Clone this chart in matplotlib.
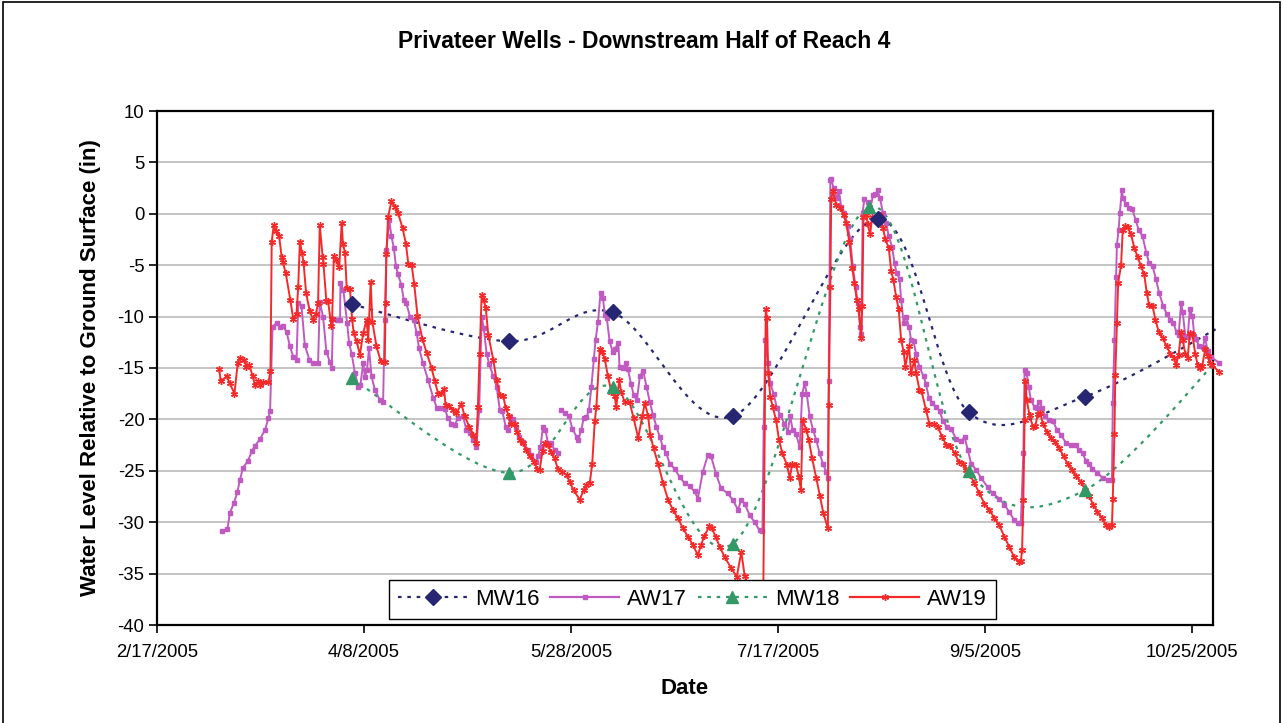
import numpy as np
import pandas as pd
import matplotlib
matplotlib.use("Agg")
import matplotlib.pyplot as plt
import matplotlib.dates as mdates
from matplotlib.lines import Line2D
from matplotlib.patches import Rectangle
from matplotlib.ticker import FixedLocator, FuncFormatter, MultipleLocator

plt.rcParams['font.family'] = ['Liberation Sans', 'DejaVu Sans']
plt.rcParams['axes.unicode_minus'] = False

title = "Privateer Wells - Downstream Half of Reach 4"
start = "2005-02-17"
tick_dates = ["2005-02-17", "2005-04-08", "2005-05-28", "2005-07-17", "2005-09-05", "2005-10-25"]

# monitoring wells (manual readings), last point lies past the axis end
mw16_dates = ["2005-04-05", "2005-05-13", "2005-06-07", "2005-07-06", "2005-08-10", "2005-09-01", "2005-09-29", "2005-11-06"]
mw16_vals = [-8.8, -12.4, -9.6, -19.7, -0.5, -19.3, -17.8, -9.8]
mw18_dates = ["2005-04-05", "2005-05-13", "2005-06-07", "2005-07-06", "2005-08-08", "2005-09-01", "2005-09-29", "2005-11-06"]
mw18_vals = [-16.0, -25.2, -16.8, -32.1, 0.7, -25.0, -26.9, -11.5]

# logger wells, days after 2/17/2005
aw17_days = [15.6, 17.0, 17.6, 18.6, 19.4, 20.0, 20.8, 22.0, 22.9, 23.6, 24.9, 26.1, 26.9, 27.3,
             27.9, 28.9, 29.8, 30.4, 31.3, 32.1, 32.9, 33.7, 34.1, 34.9, 35.7, 36.8, 37.7, 38.9,
             39.3, 40.1, 40.9, 41.7, 42.2, 42.5, 43.4, 44.2, 44.3, 45.0, 45.9, 46.4, 47.0, 47.8,
             48.6, 49.1, 49.8, 50.2, 50.7, 51.2, 51.8, 52.6, 53.8, 54.6, 55.0, 55.4, 56.1, 56.6,
             57.2, 57.7, 58.2, 59.0, 59.6, 60.2, 61.1, 62.0, 62.7, 63.3, 64.2, 65.5, 66.7, 67.6,
             68.6, 69.5, 70.3, 71.1, 71.9, 72.7, 73.9, 74.7, 75.5, 76.4, 77.1, 77.8, 78.4, 78.9,
             79.6, 80.2, 81.2, 82.0, 82.8, 83.4, 84.2, 84.8, 85.3, 86.0, 86.6, 87.4, 88.4, 89.6,
             90.4, 91.5, 92.0, 92.6, 93.2, 93.8, 94.4, 95.2, 96.0, 96.8, 97.2,
             97.6, 98.5, 99.5, 100.3, 101.3, 101.7, 102.5, 103.0, 103.7, 104.3, 104.9, 105.5,
             105.9, 106.5, 107.1, 107.7, 108.1, 108.6, 109.3, 110.0, 110.5, 111.4, 111.7, 112.5,
             113.2, 113.7, 114.5, 115.1, 115.9, 116.6, 117.4, 118.2, 119.0, 119.8, 120.6, 121.4,
             122.2, 123.0, 123.8, 125.0, 126.2, 127.4, 128.6, 129.8, 130.6, 131.8, 133.0, 133.8,
             135.0, 136.2, 137.8, 139.0, 140.3, 141.1, 141.9, 143.1, 144.3, 145.5, 146.2, 146.5,
             146.9, 147.5, 148.1, 148.9, 149.7, 150.5, 151.5, 152.3, 152.9, 153.5, 154.3, 155.2,
             155.8, 156.4, 156.9, 157.6, 158.4, 159.2, 160.0, 160.8, 161.6, 162.0, 162.2, 162.6,
             162.8, 163.4, 164.2, 164.7, 165.2, 166.0, 166.8, 167.4, 168.0, 168.7, 169.2, 169.8,
             170.1, 170.4, 170.8, 171.6, 172.2, 172.9, 173.5, 174.0, 174.6, 175.3, 176.1, 176.7,
             177.5, 178.1, 178.6, 179.3, 179.7, 180.3, 180.9, 181.6, 182.1, 182.7, 183.3, 184.1,
             185.1, 185.7, 186.4, 187.2, 188.2, 189.0, 189.8, 190.7, 191.7, 193.0, 194.2, 195.0,
             195.8, 196.6, 197.8, 199.0, 200.6, 201.8, 203.4, 204.6, 205.8, 207.0, 207.8, 208.6,
             209.2, 209.5, 210.0, 210.5, 211.0, 211.9, 212.5, 213.1, 213.7, 214.5, 215.5, 216.4,
             217.3, 218.3, 219.5, 220.7, 221.8, 222.7, 223.5, 224.3, 225.1, 225.9, 227.1, 228.4,
             229.6, 230.6, 230.8, 231.2, 231.6, 231.8, 232.2, 232.5, 233.0, 233.3, 233.9, 234.7,
             235.5, 236.3, 237.1, 238.0, 238.9, 239.6, 240.4, 241.2, 242.0, 243.0, 243.8, 244.7,
             245.4, 246.2, 246.7, 247.3, 247.7, 248.3, 248.9, 249.4, 250.0, 250.5, 250.9, 251.7,
             252.5, 253.1, 253.7, 254.4, 256.5]
aw17_vals = [-30.9, -30.7, -29.1, -28.1, -27.1, -25.9, -24.7, -24.0, -23.1, -22.6, -21.9, -21.0, -19.9, -19.2,
             -11.0, -10.6, -11.0, -10.9, -11.5, -12.9, -13.9, -14.2, -8.7, -9.0, -12.8, -14.2, -14.5, -14.5,
             -8.6, -10.0, -13.4, -14.4, -15.0, -10.2, -10.3, -10.3, -6.7, -7.4, -10.6, -12.6, -13.6, -15.5,
             -16.8, -16.7, -14.5, -15.9, -15.2, -13.1, -15.8, -17.1, -18.1, -18.3, -10.3, -3.5, -0.6, -2.2,
             -3.3, -5.1, -5.9, -6.9, -8.4, -8.7, -10.0, -10.3, -11.6, -13.1, -14.5, -16.2, -17.9, -18.9,
             -18.9, -19.0, -19.9, -20.4, -20.5, -19.9, -19.7, -21.0, -21.3, -22.0, -22.7, -19.1, -10.0, -11.1,
             -13.6, -14.6, -15.8, -16.8, -19.1, -19.2, -20.7, -21.0, -19.9, -20.0, -20.7, -21.7, -22.2, -23.0,
             -23.5, -24.1, -23.6, -22.7, -20.7, -21.0, -22.3, -22.3, -23.0, -23.3, np.nan,
             -19.1, -19.4, -19.7, -20.9, -21.7, -22.0, -21.0, -19.9, -19.8, -19.1, -16.8, -14.1,
             -12.3, -10.5, -7.7, -8.2, -9.8, -10.1, -12.4, -13.4, -13.2, -12.6, -14.9, -15.0,
             -14.5, -15.1, -16.6, -17.6, -18.1, -15.8, -15.3, -16.8, -18.3, -19.6, -20.7, -21.7,
             -22.7, -23.3, -24.3, -24.8, -25.6, -26.2, -26.5, -27.0, -27.7, -25.1, -23.5, -23.6,
             -25.3, -26.7, -27.2, -27.8, -28.8, -27.8, -28.2, -29.3, -30.0, -30.8, -30.9, -20.7,
             -12.3, -14.5, -16.5, -17.5, -18.9, -19.6, -20.4, -21.2, -19.7, -21.0, -21.4, -22.7,
             -17.5, -16.5, -17.5, -19.7, -21.0, -22.0, -23.3, -24.3, -25.1, -25.7, -16.3, 3.3,
             3.4, 2.5, 1.5, 2.2, 0.7, 0.1, -1.2, -2.5, -5.1, -7.1, -8.7, -11.0,
             -11.7, 0.1, 1.4, 1.1, 0.4, 1.8, 1.9, 2.3, 1.5, 0.1, -0.9, -2.2,
             -3.2, -4.8, -5.8, -6.3, -8.4, -10.6, -10.0, -11.0, -12.3, -12.4, -13.6, -14.9,
             -15.8, -16.6, -17.9, -18.4, -18.8, -19.2, -20.2, -20.7, -20.9, -21.9, -22.1, -21.7,
             -23.0, -24.3, -24.9, -25.7, -26.6, -27.2, -27.7, -28.3, -29.0, -29.8, -30.1, -30.1,
             -23.3, -15.2, -15.5, -16.8, -18.1, -18.8, -18.9, -18.3, -18.9, -19.7, -20.1, -20.2,
             -21.0, -21.5, -22.3, -22.5, -22.5, -23.0, -23.3, -24.0, -24.3, -24.8, -25.2, -25.7,
             -25.9, -25.9, -18.4, -12.3, -6.1, -3.0, -1.6, 0.1, 2.3, 1.5, 1.0, 0.6,
             0.5, -0.6, -1.6, -2.2, -3.8, -4.8, -5.1, -6.3, -7.7, -9.0, -9.7, -10.3,
             -10.6, -11.5, -11.8, -8.7, -9.6, -11.9, -12.0, -9.3, -9.9, -11.9, -12.2, -12.9,
             -13.0, -12.1, -13.3, -13.9, -14.5]

aw19_days = [15.0, 15.4, 16.8, 17.6, 18.7, 19.5, 20.0, 21.0, 21.6, 22.3, 23.1, 23.7, 24.4, 24.8,
             25.7, 26.9, 27.4, 27.7, 28.2, 28.7, 29.5, 30.1, 30.4, 31.1, 32.2, 32.9, 33.7, 34.1,
             34.5, 35.0, 35.4, 36.0, 36.9, 37.7, 38.4, 38.9, 39.3, 40.0, 40.2, 40.9, 41.3, 42.1,
             42.3, 42.7, 43.2, 44.0, 44.6, 44.9, 45.4, 45.8, 46.6, 47.1, 47.5, 48.2, 49.0, 49.8,
             50.6, 51.0, 51.6, 52.0, 53.0, 54.0, 55.0, 55.2, 55.4, 55.8, 56.6, 57.4, 58.2, 59.3,
             60.1, 60.7, 61.5, 62.1, 62.9, 64.1, 65.1, 66.3, 67.1, 67.9, 68.7, 69.3, 69.7, 70.5,
             71.5, 72.3, 73.5, 74.3, 75.4, 76.4, 77.1, 77.5, 77.9, 78.4, 78.9, 79.4, 80.0, 81.2,
             82.0, 82.8, 83.6, 84.2, 85.0, 85.6, 86.4, 87.0, 87.6, 88.4, 89.2, 90.0, 91.0, 91.8,
             92.4, 93.1, 93.6, 94.4, 95.2, 96.0, 96.8, 97.9, 98.9, 99.7, 100.6, 102.1, 103.0, 103.7,
             104.5, 105.1, 105.7, 106.1, 106.9, 107.5, 108.1, 108.9, 109.7, 110.5, 110.9, 111.6, 112.1, 112.9,
             114.1, 115.1, 116.2, 117.2, 117.8, 118.6, 119.1, 119.9, 121.0, 122.2, 123.4, 124.6, 125.8, 127.0,
             128.2, 129.4, 130.6, 131.4, 132.2, 133.4, 134.0, 134.9, 135.9, 137.1, 138.7, 140.0, 141.1, 141.9,
             143.5, 145.5, 146.4, 147.0, 147.3, 147.6, 148.1, 148.7, 149.5, 150.2, 151.0, 152.1, 152.8, 153.4,
             154.3, 155.0, 155.5, 155.9, 156.8, 157.4, 158.2, 159.2, 160.1, 160.9, 162.0, 162.2, 162.6, 162.8,
             163.2, 164.0, 165.0, 165.8, 166.4, 167.2, 167.9, 168.4, 169.0, 169.5, 170.0, 170.3, 170.6, 171.3,
             171.6, 172.2, 172.7, 173.5, 174.5, 175.3, 175.9, 176.7, 177.3, 177.8, 178.5, 179.1, 179.7, 180.3,
             180.7, 181.6, 182.1, 182.9, 183.3, 184.1, 184.6, 185.7, 186.5, 187.7, 188.5, 189.6, 190.6, 191.6,
             192.6, 193.6, 194.6, 195.4, 196.3, 197.4, 198.6, 199.8, 201.0, 202.2, 203.4, 204.6, 205.8, 207.0,
             208.1, 208.6, 208.9, 209.2, 209.5, 209.7, 210.0, 210.7, 211.5, 212.1, 212.7, 213.3, 213.9, 214.9,
             215.9, 216.9, 217.9, 218.9, 219.9, 221.0, 221.9, 223.1, 224.2, 225.1, 226.1, 227.1, 228.2, 229.2,
             230.0, 230.6, 230.8, 231.2, 231.4, 231.8, 232.1, 232.8, 233.2, 233.8, 234.4, 235.2, 236.0, 236.8,
             237.6, 238.4, 239.0, 239.6, 240.4, 241.1, 241.9, 242.9, 243.8, 244.7, 245.5, 246.1, 246.7, 247.3,
             247.7, 248.3, 248.9, 249.4, 250.0, 250.7, 251.3, 251.8, 252.4, 253.1, 253.7, 254.2, 254.8, 256.5]
aw19_vals = [-15.1, -16.3, -15.8, -16.5, -17.5, -14.5, -14.0, -14.2, -14.9, -14.7, -15.8, -16.7, -16.3, -16.7,
             -16.4, -16.4, -15.3, -2.7, -1.1, -1.7, -2.2, -4.2, -4.7, -5.8, -8.4, -10.2, -9.7, -7.1,
             -2.7, -3.8, -4.8, -7.7, -9.5, -10.3, -9.7, -8.7, -1.1, -4.2, -4.9, -8.5, -8.5, -10.9,
             -10.2, -4.1, -4.5, -5.2, -0.9, -2.9, -3.8, -7.2, -7.3, -10.2, -11.6, -12.4, -13.7, -11.6,
             -10.3, -12.3, -6.6, -10.5, -12.9, -14.3, -14.4, -8.7, -3.9, -0.3, 1.2, 0.7, 0.1, -1.4,
             -2.9, -4.9, -5.0, -6.8, -9.9, -12.2, -13.5, -15.0, -16.3, -17.5, -17.4, -17.0, -18.6, -18.7,
             -19.1, -19.4, -18.5, -19.7, -20.7, -21.5, -22.3, -18.8, -13.6, -7.9, -8.4, -9.2, -11.8, -14.2,
             -16.2, -17.6, -17.7, -18.9, -19.7, -20.4, -20.4, -21.2, -22.0, -22.3, -23.0, -23.6, -24.1, -24.8,
             -24.9, -23.1, -22.3, -22.5, -23.2, -23.8, -24.8, -25.1, -25.4, -26.1, -26.9, -27.8, -26.9, -26.4,
             -26.2, -24.3, -20.2, -18.8, -13.2, -13.4, -14.1, -15.8, -17.3, -17.7, -18.8, -16.2, -17.3, -18.3,
             -18.3, -19.9, -21.8, -19.7, -18.4, -19.7, -21.5, -22.8, -24.3, -26.2, -27.8, -28.8, -29.6, -30.6,
             -31.4, -32.2, -33.2, -32.2, -31.3, -30.4, -30.6, -31.4, -32.4, -33.4, -34.5, -35.3, -32.9, -35.2,
             -37.0, -38.0, -37.5, -9.3, -10.1, -15.5, -17.8, -18.8, -20.1, -22.0, -23.3, -24.4, -25.7, -24.3,
             -24.4, -25.6, -26.9, -20.1, -21.0, -22.0, -23.8, -25.7, -27.5, -29.1, -30.6, -18.6, -7.1, 1.4,
             2.2, 0.9, 0.6, -0.1, -0.9, -2.7, -5.3, -6.7, -8.4, -9.3, -12.1, -9.0, -0.3, -0.1,
             -1.0, -2.0, -0.3, -0.4, -0.1, -1.4, -2.5, -3.3, -5.6, -6.4, -8.1, -9.3, -12.3, -13.4,
             -14.9, -12.9, -15.5, -14.2, -15.5, -17.1, -17.2, -19.1, -20.4, -20.4, -20.7, -21.7, -22.5, -22.6,
             -23.3, -24.1, -24.3, -24.9, -25.4, -26.2, -27.2, -28.2, -28.8, -29.6, -30.3, -31.4, -32.4, -33.4,
             -33.9, -33.8, -32.7, -27.8, -20.1, -16.3, -18.1, -19.6, -20.7, -20.6, -19.5, -19.4, -20.4, -21.2,
             -21.8, -22.2, -22.8, -23.6, -24.3, -24.9, -25.5, -26.1, -26.9, -27.5, -28.3, -29.0, -29.6, -30.3,
             -30.5, -30.3, -27.7, -21.4, -15.7, -10.6, -6.7, -5.0, -1.6, -1.2, -1.3, -2.0, -3.3, -4.2,
             -5.1, -5.9, -7.7, -8.9, -9.0, -10.3, -11.5, -12.1, -12.9, -13.6, -14.0, -14.7, -13.7, -11.5,
             -12.3, -13.6, -14.0, -11.6, -11.7, -13.6, -14.7, -15.0, -14.8, -13.2, -13.8, -14.5, -14.7, -15.4]


def excel_smooth(x, y, n=40):
    # Excel "smoothed line": cubic Bezier with Catmull-Rom control points
    pts = np.column_stack([x, y])
    P = np.vstack([pts[0], pts, pts[-1]])
    t = np.linspace(0, 1, n)[:, None]
    segs = []
    for i in range(1, len(P) - 2):
        p0, p1, p2, p3 = P[i - 1], P[i], P[i + 1], P[i + 2]
        c1 = p1 + (p2 - p0) / 6
        c2 = p2 - (p3 - p1) / 6
        segs.append((1 - t) ** 3 * p1 + 3 * (1 - t) ** 2 * t * c1 + 3 * (1 - t) * t ** 2 * c2 + t ** 3 * p2)
    return np.vstack(segs)


t0 = mdates.date2num(pd.Timestamp(start))
x_end = t0 + 256.5
x_max = t0 + 255

c_mw16 = "#262673"
c_aw17 = "#C05AC0"
c_mw18 = "#339966"
c_aw19 = "#F42A2A"
star = (6, 2, 0)

fig = plt.figure(figsize=(12.83, 7.23), dpi=100)
ax = fig.add_axes([157 / 1283, 1 - 625 / 723, 1056 / 1283, 514 / 723])

for dates, vals, col, mk, ms in [(mw16_dates, mw16_vals, c_mw16, "D", 8),
                                 (mw18_dates, mw18_vals, c_mw18, "^", 9)]:
    xd = mdates.date2num(pd.to_datetime(dates))
    sm = excel_smooth(xd, np.array(vals))
    sm = sm[sm[:, 0] <= x_end]
    ax.plot(sm[:, 0], sm[:, 1], color=col, lw=1.6, ls=(0, (1.6, 2.6)), clip_on=False, zorder=2)
    keep = xd <= x_max
    ax.plot(xd[keep], np.array(vals)[keep], ls="none", marker=mk, ms=ms, color=col, zorder=4)

ax.plot(t0 + np.array(aw17_days), aw17_vals, color=c_aw17, lw=1.4, marker="s", ms=2.2,
        clip_on=False, zorder=3)
ax.plot(t0 + np.array(aw19_days), aw19_vals, color=c_aw19, lw=1.4, marker=star, ms=5, mew=1.0,
        clip_on=False, zorder=3)

ax.set_xlim(t0, x_max)
ax.set_ylim(-40, 10)
ax.yaxis.set_major_locator(MultipleLocator(5))
ax.xaxis.set_major_locator(FixedLocator(mdates.date2num(pd.to_datetime(tick_dates))))
ax.xaxis.set_major_formatter(FuncFormatter(
    lambda v, p: "{d.month}/{d.day}/{d.year}".format(d=mdates.num2date(v))))
ax.grid(axis="y", color="#BFBFBF", lw=1.3)
ax.set_axisbelow(True)
for s in ax.spines.values():
    s.set_linewidth(1.6)
ax.tick_params(axis="both", labelsize=13.3, length=6, width=1.2, direction="out")
ax.tick_params(axis="x", pad=8)
ax.tick_params(axis="y", pad=3)

ax.set_xlabel("Date", fontsize=16, fontweight="bold", labelpad=12)
ax.set_ylabel("Water Level Relative to Ground Surface (in)", fontsize=16, fontweight="bold", labelpad=12)
fig.text(644 / 1283, 1 - 42 / 723, title, fontsize=16.5, fontweight="bold", ha="center", va="center")

handles = [
    Line2D([], [], color=c_mw16, lw=1.6, ls=(0, (1.6, 2.6)), marker="D", ms=8),
    Line2D([], [], color=c_aw17, lw=1.6, marker="s", ms=2.2),
    Line2D([], [], color=c_mw18, lw=1.6, ls=(0, (1.6, 2.6)), marker="^", ms=9),
    Line2D([], [], color=c_aw19, lw=1.6, marker=star, ms=5, mew=1.0),
]
leg = ax.legend(handles, ["MW16", "AW17", "MW18", "AW19"], loc="lower center",
                bbox_to_anchor=(0.507, 0.012), ncol=4, fontsize=16, frameon=True, fancybox=False,
                framealpha=1, edgecolor="black", handlelength=3.1, handletextpad=0.35,
                columnspacing=0.5, borderpad=0.4, borderaxespad=0)
leg.get_frame().set_linewidth(1.0)
leg.set_zorder(10)

fig.patches.append(Rectangle((0.0025, -0.05), 0.995, 1.047, transform=fig.transFigure,
                             fill=False, edgecolor="black", lw=1.2))

fig.savefig("out.png", dpi=100)
